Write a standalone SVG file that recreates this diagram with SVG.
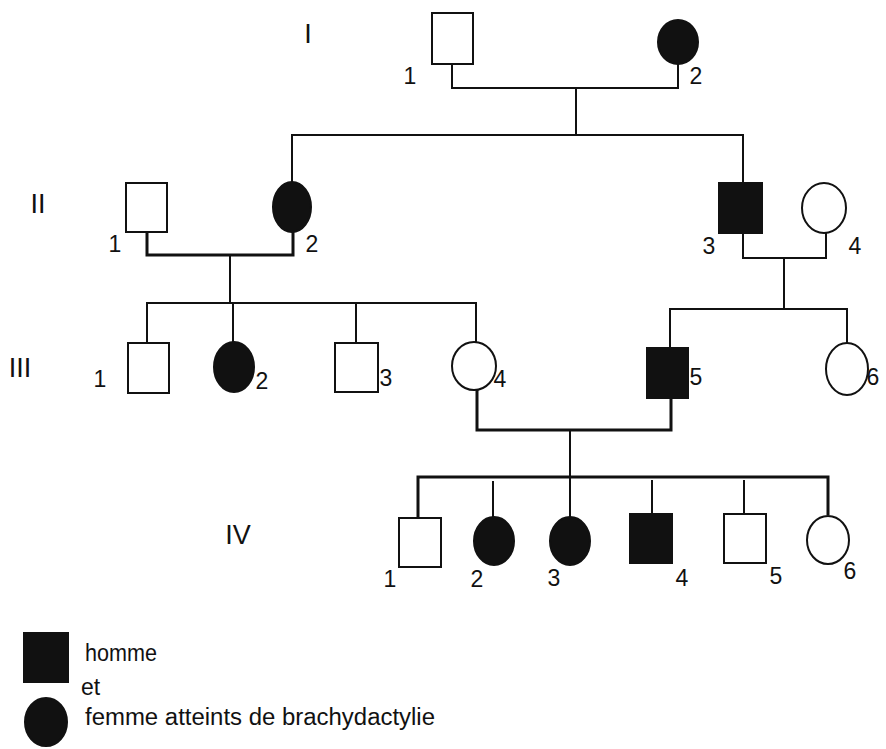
<svg xmlns="http://www.w3.org/2000/svg" width="886" height="749" viewBox="0 0 886 749">
<style>
.m{fill:#fff;stroke:#111;stroke-width:2}
.a{fill:#111;stroke:#111;stroke-width:2}
.ln{fill:none;stroke:#111;stroke-width:2}
.th{fill:none;stroke:#111;stroke-width:3}
.n{font-family:"Liberation Sans",Arial,sans-serif;font-size:23px;fill:#111;text-anchor:middle}
.g{font-family:"Liberation Sans",Arial,sans-serif;font-size:27px;fill:#111;text-anchor:middle}
.lg{font-family:"Liberation Sans",Arial,sans-serif;font-size:23px;fill:#111}
</style>
<rect width="886" height="749" fill="#fff"/>
<g id="connectors">
<path class="ln" d="M452 64V88H678V64"/>
<path class="ln" d="M576 88V135"/>
<path class="ln" d="M292 182V135H743V183"/>
<path class="th" d="M147 232V255H293V232"/>
<path class="ln" d="M230 255V303"/>
<path class="ln" d="M147 343V303H476V342"/>
<path class="ln" d="M233 303V343"/>
<path class="ln" d="M356 303V343"/>
<path class="ln" d="M743 233V258H826V233"/>
<path class="ln" d="M784 258V309"/>
<path class="ln" d="M670 348V309H847V343"/>
<path class="th" d="M477 390V430H671V398"/>
<path class="ln" d="M570 430V477"/>
<path class="th" d="M418 518V477H828V515"/>
<path class="ln" d="M493 481V517"/>
<path class="ln" d="M570 477V517"/>
<path class="ln" d="M652 480V514"/>
<path class="ln" d="M744 480V514"/>
</g>
<g id="gen-labels">
<text class="g" x="308" y="43">I</text>
<text class="g" x="38" y="213">II</text>
<text class="g" x="20" y="377">III</text>
<text class="g" x="238" y="544">IV</text>
</g>
<g id="I-1"><rect class="m" x="432" y="13" width="41" height="51"/><text class="n" x="410" y="84">1</text></g>
<g id="I-2"><ellipse class="a" cx="678" cy="42" rx="20" ry="22"/><text class="n" x="696" y="84">2</text></g>
<g id="II-1"><rect class="m" x="126" y="183" width="41" height="49"/><text class="n" x="115" y="252">1</text></g>
<g id="II-2"><ellipse class="a" cx="292" cy="207" rx="19" ry="25"/><text class="n" x="312" y="252">2</text></g>
<g id="II-3"><rect class="a" x="719" y="183" width="43" height="50"/><text class="n" x="709" y="254">3</text></g>
<g id="II-4"><ellipse class="m" cx="824" cy="208" rx="22" ry="25"/><text class="n" x="855" y="254">4</text></g>
<g id="III-1"><rect class="m" x="128" y="343" width="41" height="50"/><text class="n" x="100" y="387">1</text></g>
<g id="III-2"><ellipse class="a" cx="234" cy="367" rx="20" ry="25"/><text class="n" x="262" y="389">2</text></g>
<g id="III-3"><rect class="m" x="335" y="343" width="43" height="49"/><text class="n" x="386" y="386">3</text></g>
<g id="III-4"><ellipse class="m" cx="474" cy="366" rx="22" ry="24"/><text class="n" x="500" y="387">4</text></g>
<g id="III-5"><rect class="a" x="647" y="348" width="41" height="50"/><text class="n" x="696" y="385">5</text></g>
<g id="III-6"><ellipse class="m" cx="847" cy="369" rx="21" ry="26"/><text class="n" x="873" y="385">6</text></g>
<g id="IV-1"><rect class="m" x="399" y="518" width="42" height="49"/><text class="n" x="390" y="587">1</text></g>
<g id="IV-2"><ellipse class="a" cx="494" cy="541" rx="20" ry="24"/><text class="n" x="477" y="587">2</text></g>
<g id="IV-3"><ellipse class="a" cx="570" cy="541" rx="20" ry="24"/><text class="n" x="554" y="586">3</text></g>
<g id="IV-4"><rect class="a" x="630" y="514" width="42" height="49"/><text class="n" x="682" y="586">4</text></g>
<g id="IV-5"><rect class="m" x="724" y="514" width="42" height="49"/><text class="n" x="776" y="584">5</text></g>
<g id="IV-6"><ellipse class="m" cx="828" cy="540" rx="21" ry="24"/><text class="n" x="850" y="579">6</text></g>
<g id="legend">
<rect class="a" x="24" y="633" width="44" height="49"/>
<ellipse class="a" cx="46" cy="722" rx="21" ry="24"/>
<text class="lg" x="85" y="661" textLength="72" lengthAdjust="spacingAndGlyphs">homme</text>
<text class="lg" x="81" y="695">et</text>
<text class="lg" x="85" y="725" textLength="350" lengthAdjust="spacingAndGlyphs">femme atteints de brachydactylie</text>
</g>
</svg>
